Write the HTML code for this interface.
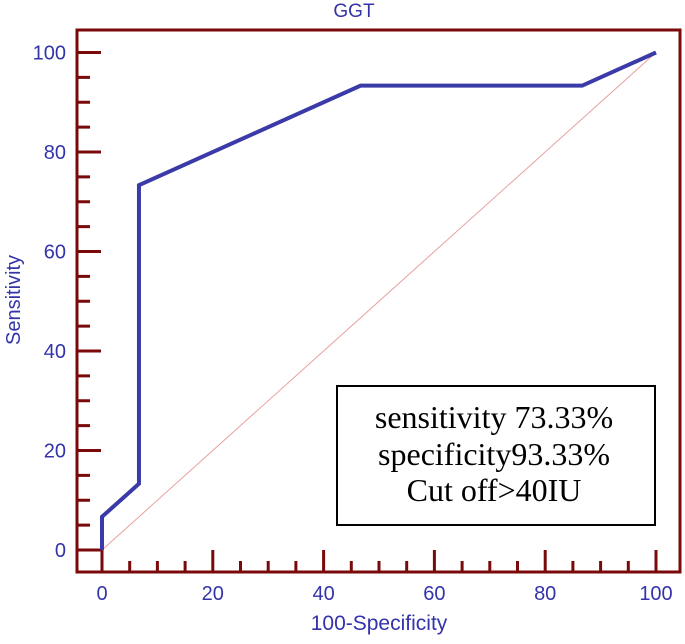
<!DOCTYPE html>
<html><head><meta charset="utf-8"><style>
body{margin:0;background:#fff}
svg text{font-family:"Liberation Sans",sans-serif}
</style></head><body>
<svg width="685" height="639" viewBox="0 0 685 639">
<text x="354" y="17" font-size="19" fill="#3333aa" text-anchor="middle">GGT</text>
<rect x="77" y="30" width="603" height="542" fill="none" stroke="#7a0a0a" stroke-width="3"/>
<g id="ticks"></g>
<line id="diag" stroke="#e8a0a0" stroke-width="1"/>
<polyline id="curve" fill="none" stroke="#3a3aa8" stroke-width="4" stroke-linejoin="miter"/>
<text x="-300" y="20" transform="rotate(-90)" font-size="20" fill="#3333aa" text-anchor="middle">Sensitivity</text>
<text x="379" y="630" font-size="21" fill="#3333aa" text-anchor="middle">100-Specificity</text>
<g>
<rect x="337" y="386" width="318" height="139" fill="#fff" stroke="#000" stroke-width="2"/>
<text x="494" y="428" font-size="32" text-anchor="middle" style="font-family:'Liberation Serif',serif">sensitivity 73.33%</text>
<text x="494" y="465" font-size="32" text-anchor="middle" style="font-family:'Liberation Serif',serif">specificity93.33%</text>
<text x="494" y="501" font-size="32" text-anchor="middle" style="font-family:'Liberation Serif',serif">Cut off&gt;40IU</text>
</g>
</svg>
<script>
const fprValues=[0,0,6.67,6.67,46.67,86.67,100];
const tprValues=[0,6.67,13.33,73.33,93.33,93.33,100];
const xTickLabels=["0","20","40","60","80","100"];
const yTickLabels=["0","20","40","60","80","100"];
const X=v=>102+v*5.54, Y=v=>550-v*4.975;
const ns="http://www.w3.org/2000/svg";
const g=document.getElementById('ticks');
function mk(t,a){const e=document.createElementNS(ns,t);for(const k in a)e.setAttribute(k,a[k]);return e;}
for(let v=0;v<=100;v+=5){
  const major=v%20===0;
  const l=mk('line',{x1:77,x2:major?101:90,y1:Y(v),y2:Y(v),stroke:'#7a0a0a','stroke-width':3});
  
  
  g.appendChild(l);
  const m=mk('line',{x1:X(v),x2:X(v),y1:572,y2:major?550:561,stroke:'#7a0a0a','stroke-width':3});
  
  
  g.appendChild(m);
}
yTickLabels.forEach(s=>{const t=mk('text',{x:66,y:Y(+s)+7,'font-size':20,fill:'#3333aa','text-anchor':'end'});t.textContent=s;
  
  
  g.appendChild(t);});
xTickLabels.forEach(s=>{const t=mk('text',{x:X(+s),y:600,'font-size':20,fill:'#3333aa','text-anchor':'middle'});t.textContent=s;
  
  
  g.appendChild(t);});
const d=document.getElementById('diag');
d.setAttribute('x1',X(0));d.setAttribute('y1',Y(0));d.setAttribute('x2',X(100));d.setAttribute('y2',Y(100));
document.getElementById('curve').setAttribute('points',fprValues.map((v,i)=>X(v)+','+Y(tprValues[i])).join(' '));
</script>
</body></html>
